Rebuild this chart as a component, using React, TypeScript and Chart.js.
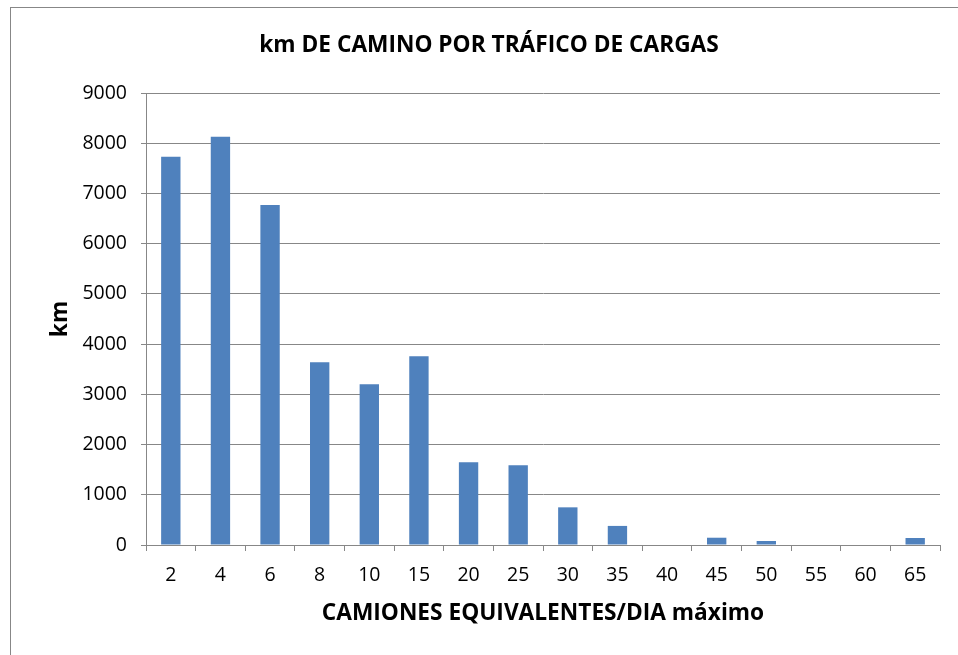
import { useEffect, useRef } from "react";
import { Chart, registerables } from "chart.js";

Chart.register(...registerables);

const categories = ["2", "4", "6", "8", "10", "15", "20", "25", "30", "35", "40", "45", "50", "55", "60", "65"];
const kmValues = [7730, 8130, 6770, 3640, 3200, 3760, 1650, 1590, 750, 380, 0, 145, 80, 0, 0, 140];
const yMin = 0;
const yMax = 9000;
const yStep = 1000;
const chartTitle = "km DE CAMINO POR TRÁFICO DE CARGAS";
const xTitle = "CAMIONES EQUIVALENTES/DIA máximo";
const yTitle = "km";

const FONT = "'Open Sans'";
const GRAY = "#878787";
const BLUE = "#4F81BD";

const borderPlugin = {
  id: "outerBorder",
  afterDraw(chart: any) {
    const ctx = chart.ctx;
    ctx.save();
    ctx.strokeStyle = GRAY;
    ctx.lineWidth = 1;
    ctx.strokeRect(10.5, 7.5, chart.width + 20, chart.height + 20);
    ctx.restore();
  },
};

export default function App() {
  const ref = useRef<HTMLCanvasElement | null>(null);

  useEffect(() => {
    document.body.style.margin = "0";
    document.body.style.overflow = "hidden";
    const canvas = ref.current;
    if (!canvas) return;
    const chart = new Chart(canvas, {
      type: "bar",
      data: {
        labels: categories,
        datasets: [
          {
            label: "km",
            data: kmValues,
            backgroundColor: BLUE,
            borderWidth: 0,
            categoryPercentage: 1,
            barPercentage: 0.39,
          },
        ],
      },
      options: {
        animation: false,
        responsive: false,
        maintainAspectRatio: false,
        devicePixelRatio: 1,
        layout: { padding: { left: 38, right: 18, top: 0, bottom: 0 } },
        plugins: {
          legend: { display: false },
          tooltip: { enabled: false },
          title: {
            display: true,
            text: chartTitle,
            color: "#000",
            font: { family: FONT, size: 22.7, weight: "bold", lineHeight: 1.2 },
            padding: { top: 31.6, bottom: 34.2 },
          },
        },
        scales: {
          x: {
            grid: {
              display: true,
              drawOnChartArea: false,
              drawTicks: true,
              tickLength: 6,
              color: GRAY,
              offset: true,
            },
            border: { display: true, color: GRAY, width: 1 },
            ticks: {
              color: "#000",
              font: { family: FONT, size: 19.5, lineHeight: 1.2 },
              padding: 12.7,
              maxRotation: 0,
              autoSkip: false,
            },
            title: {
              display: true,
              text: xTitle,
              color: "#000",
              font: { family: FONT, size: 22.7, weight: "bold", lineHeight: 1.2 },
              padding: { top: 0, bottom: 27.6 },
            },
            afterFit(scale: any) {
              scale.height = 110;
            },
          },
          y: {
            min: yMin,
            max: yMax,
            ticks: {
              stepSize: yStep,
              color: "#000",
              font: { family: FONT, size: 19.5, lineHeight: 1.2 },
              padding: 14,
              callback: (v: any) => String(v),
            },
            grid: {
              color: GRAY,
              tickLength: 5,
              drawTicks: true,
            },
            border: { display: true, color: GRAY, width: 1 },
            title: {
              display: true,
              text: yTitle,
              color: "#000",
              font: { family: FONT, size: 22.7, weight: "bold", lineHeight: 1.2 },
              padding: { top: 9.4, bottom: 0 },
            },
            afterFit(scale: any) {
              scale.width = 108;
            },
          },
        },
      },
      plugins: [borderPlugin],
    });
    return () => chart.destroy();
  }, []);

  return (
    <div style={{ width: 958, height: 655, position: "relative" }}>
      <canvas ref={ref} width={958} height={655} style={{ display: "block", width: 958, height: 655 }} />
    </div>
  );
}
